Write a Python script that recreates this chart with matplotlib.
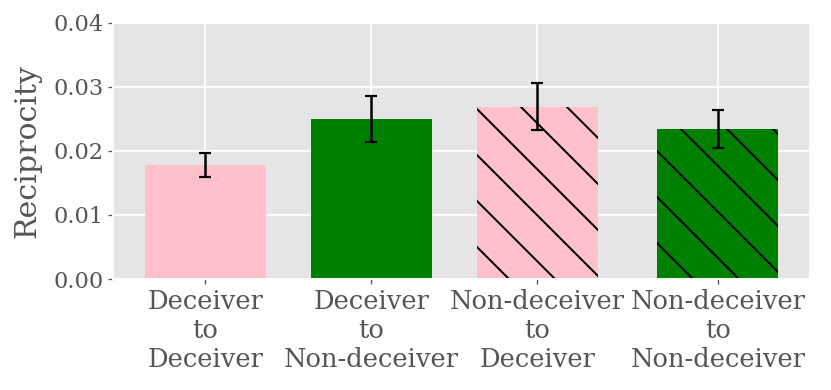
import numpy as np
import matplotlib
matplotlib.use('Agg')
import matplotlib.pyplot as plt

# data
labels = ['Deceiver\nto\nDeceiver', 'Deceiver\nto\nNon-deceiver',
          'Non-deceiver\nto\nDeceiver', 'Non-deceiver\nto\nNon-deceiver']
means = [0.0178, 0.0250, 0.0269, 0.0234]
errs = [0.0019, 0.0036, 0.0037, 0.0030]
colors = ['pink', 'green', 'pink', 'green']
hatches = ['', '', '\\', '\\']
xpos = [0, 1, 2, 3.09]  # last bar sits a bit further right in the original

DPI = 138
W, H = 831, 390


def px(n):
    # pixel size -> points at the chosen dpi
    return n * 72.0 / DPI


plt.style.use('ggplot')
plt.rcParams['font.family'] = ['DejaVu Serif']
plt.rcParams['hatch.linewidth'] = px(2)
plt.rcParams['hatch.color'] = 'black'

fig = plt.figure(figsize=(W / DPI, H / DPI), dpi=DPI)
ax = fig.add_axes([113.3 / W, 1 - 279 / H, (810 - 113.3) / W, (279 - 22.7) / H])

for i in range(len(means)):
    ax.bar(xpos[i], means[i], width=0.73, color=colors[i], edgecolor='black',
           linewidth=0, hatch=hatches[i])
ax.errorbar(xpos, means, yerr=errs, fmt='none', ecolor='black',
            elinewidth=px(2.5), capsize=px(6), capthick=px(2.2))

ax.set_ylim(0, 0.04)
ax.set_yticks([0.0, 0.01, 0.02, 0.03, 0.04])
ax.set_xticks(xpos)
ax.set_xticklabels(labels, fontsize=px(25.8))
ax.tick_params(axis='y', labelsize=px(22.5), length=px(5), width=px(1.3), pad=px(5))
ax.tick_params(axis='x', length=px(5), width=px(1.3), pad=px(5))
ax.grid(True, color='white', linewidth=px(1.8))
ax.set_axisbelow(True)
ax.set_ylabel('Reciprocity', fontsize=px(30), labelpad=px(12))

fig.savefig('out.png', dpi=DPI)
